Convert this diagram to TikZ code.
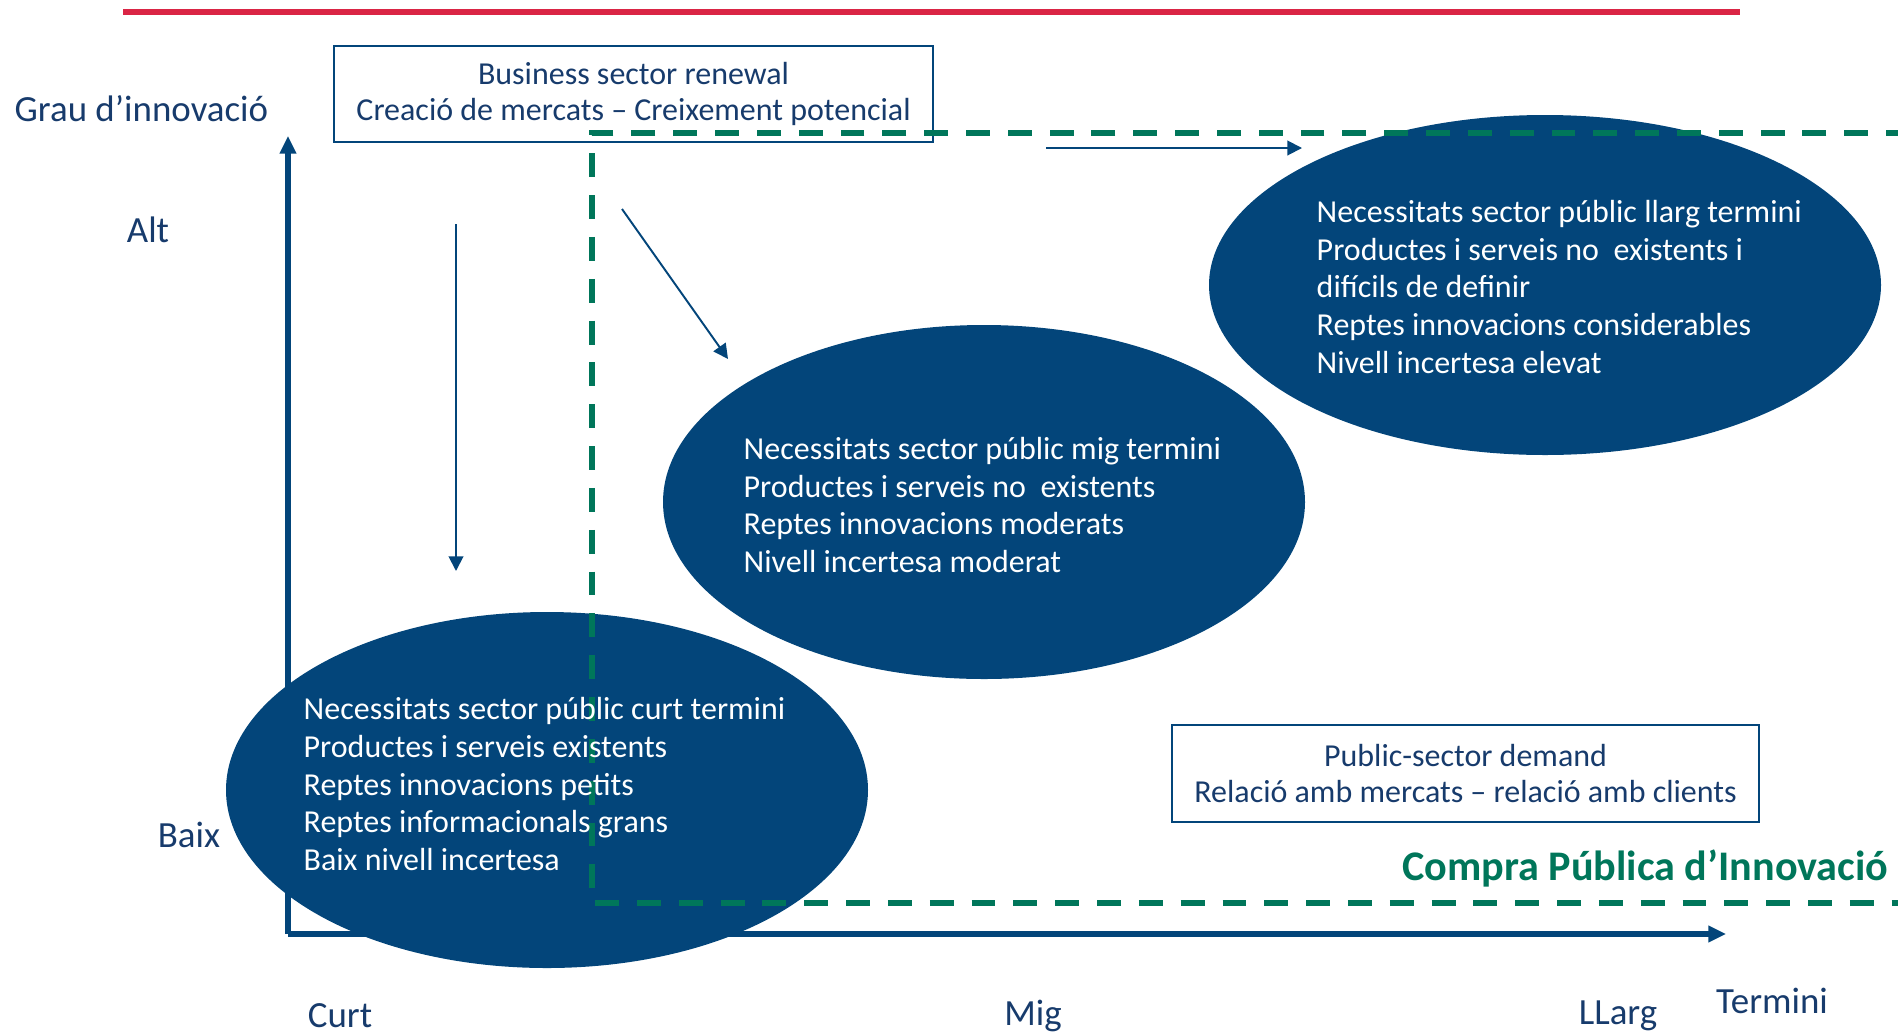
\documentclass[tikz,border=0pt]{standalone}
\usepackage{fontspec}
\setmainfont{Carlito}
\usetikzlibrary{shapes.geometric,arrows.meta}
\definecolor{blobblue}{HTML}{03457A}
\definecolor{inkblue}{HTML}{173B6C}
\definecolor{cpigreen}{HTML}{00765A}
\definecolor{topred}{HTML}{DA2545}
\tikzset{
	blob/.style={ellipse,fill=blobblue,inner sep=0pt},
	blobtext/.style={anchor=west,align=left,inner sep=0pt,text=white,font=\fontsize{9.1}{10.8}\selectfont},
	infobox/.style={draw=blobblue,line width=.6pt,fill=white,align=center,text=inkblue,
		font=\fontsize{9.1}{10.5}\selectfont,minimum width=59.9mm,minimum height=9.6mm},
	axislabel/.style={text=inkblue,font=\fontsize{10.5}{12}\selectfont},
	axisline/.style={draw=blobblue,line width=1.5pt,-{Triangle[length=5pt,width=4.5pt]}},
	thinarrow/.style={draw=blobblue,line width=.55pt,-{Triangle[length=4.2pt,width=4.2pt]}},
	cpiline/.style={draw=cpigreen,line width=1.7pt,dash pattern=on 6.8pt off 5.1pt}
}
\begin{document}
\begin{tikzpicture}[x=.1mm,y=-.1mm]
	\useasboundingbox (0,0) rectangle (1898,1035);
	% red rule on top
	\coordinate (rule-l) at (123,12);
	\coordinate (rule-r) at (1740,12);
	\draw[topred,line width=1.7pt] (rule-l)--(rule-r);
	% axes
	\coordinate (origin) at (288,934);
	\coordinate (ytop) at (288,136);
	\coordinate (xend) at (1726,934);
	\draw[axisline] (origin)--(ytop);
	\draw[axisline] (origin)--(xend);
	% thin arrows
	\coordinate (down-s) at (456,224);
	\coordinate (down-e) at (456,571);
	\coordinate (diag-s) at (622,209);
	\coordinate (diag-e) at (728,359);
	\coordinate (right-s) at (1046,148);
	\coordinate (right-e) at (1302,148);
	\draw[thinarrow] (down-s)--(down-e);
	\draw[thinarrow] (diag-s)--(diag-e);
	\draw[thinarrow] (right-s)--(right-e);
	% boxes
	\node[infobox] (bsr) at (633.5,94) {Business sector renewal\\Creació de mercats – Creixement potencial};
	\node[infobox,minimum width=58.7mm,minimum height=9.7mm] (psd) at (1465.5,773.5) {Public-sector demand\\Relació amb mercats – relació amb clients};
	% ellipses
	\node[blob,minimum width=64.2mm,minimum height=35.6mm] (curt) at (547,790) {};
	\node[blob,minimum width=64.2mm,minimum height=35.4mm] (mig) at (984,502) {};
	\node[blob,minimum width=67.2mm,minimum height=34mm] (llarg) at (1545,285) {};
	% compra publica area
	\coordinate (cpi-tr) at (1910,133);
	\coordinate (cpi-tl) at (592,133);
	\coordinate (cpi-bl) at (592,903);
	\coordinate (cpi-br) at (1910,903);
	\draw[cpiline] (cpi-tr)--(cpi-tl)--(cpi-bl)--(cpi-br);
	\node[anchor=east,inner sep=0pt,text=cpigreen,font=\fontsize{12}{14}\selectfont\bfseries] (cpi) at (1889,868) {Compra Pública d’Innovació};
	% texts
	\node[blobtext] (curt-t) at (303,784) {Necessitats sector públic curt termini\\Productes i serveis existents\\Reptes innovacions petits\\Reptes informacionals grans\\Baix nivell incertesa};
	\node[blobtext] (mig-t) at (743,505) {Necessitats sector públic mig termini\\Productes i serveis no\ \ existents\\Reptes innovacions moderats\\Nivell incertesa moderat};
	\node[blobtext] (llarg-t) at (1316,287) {Necessitats sector públic llarg termini\\Productes i serveis no\ \ existents i\\difícils de definir\\Reptes innovacions considerables\\Nivell incertesa elevat};
	% axis labels
	\node[axislabel,anchor=west,inner sep=0pt] (grau) at (14,109) {Grau d’innovació};
	\node[axislabel] (alt) at (148,230) {Alt};
	\node[axislabel] (baix) at (189,835) {Baix};
	\node[axislabel] (curt-l) at (340,1016) {Curt};
	\node[axislabel] (mig-l) at (1033,1016) {Mig};
	\node[axislabel] (llarg-l) at (1618,1016) {LLarg};
	\node[axislabel] (termini) at (1772,1001) {Termini};
\end{tikzpicture}
\end{document}
